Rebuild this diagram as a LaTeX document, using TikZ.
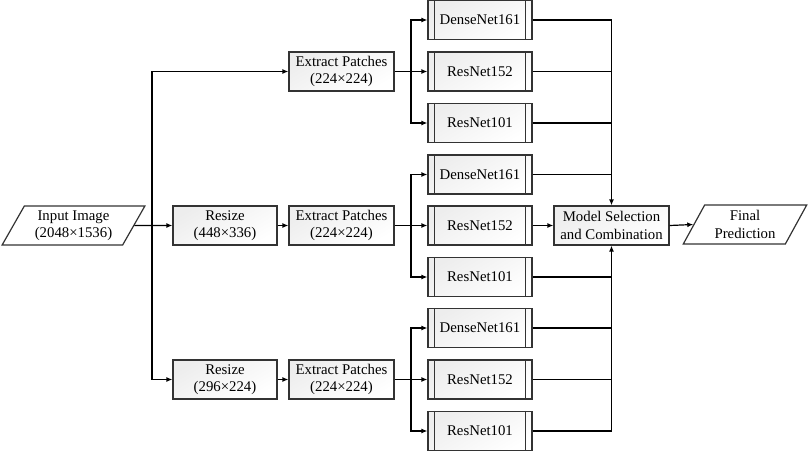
\documentclass[tikz,border=0pt]{standalone}
\usepackage{fontspec}
\setmainfont{Liberation Serif}
\newfontfamily\diagfont{Liberation Serif}
\usetikzlibrary{arrows.meta,shapes.geometric,calc}
\begin{document}
\begin{tikzpicture}[x=1pt,y=-1pt,
  font=\diagfont\fontsize{14.8}{17.5}\selectfont,
  boxcol/.style={draw=black!80, line width=1.2pt, top color=black!7, bottom color=white, shading angle=30},
  procbox/.style={boxcol, minimum width=104pt, minimum height=39pt, inner sep=0pt, align=center},
  netbox/.style={procbox},
  iobox/.style={draw=black!80, line width=1.2pt, fill=white, trapezium, trapezium left angle=60, trapezium right angle=120, trapezium stretches=true, minimum height=39pt, inner sep=0pt, align=center},
  conn/.style={line width=1.2pt, black},
  arr/.style={conn, -{Latex[length=6pt,width=5pt]}}]
\useasboundingbox (0,0) rectangle (809,451);
% input and resize / patches
\node[iobox, minimum width=143pt] (in) at (73.5,225.5) {Input Image\\(2048×1536)};
\node[procbox] (r1) at (225,225.5) {Resize\\(448×336)};
\node[procbox] (r2) at (225,379.5) {Resize\\(296×224)};
\node[procbox, minimum width=105pt] (e1) at (341.5,71.5) {Extract Patches\\(224×224)};
\node[procbox, minimum width=105pt] (e2) at (341.5,225.5) {Extract Patches\\(224×224)};
\node[procbox, minimum width=105pt] (e3) at (341.5,379.5) {Extract Patches\\(224×224)};
% networks
\foreach \n/\y/\t in {m11/20/DenseNet161, m12/71.5/ResNet152, m13/123/ResNet101,
                      m21/174.5/DenseNet161, m22/225.5/ResNet152, m23/277/ResNet101,
                      m31/328/DenseNet161, m32/379.5/ResNet152, m33/431/ResNet101}{
  \node[netbox] (\n) at (480,\y) {\t};
  \draw[draw=black!80, line width=1.2pt] ([xshift=7pt]\n.north west) -- ([xshift=7pt]\n.south west);
  \draw[draw=black!80, line width=1.2pt] ([xshift=-7pt]\n.north east) -- ([xshift=-7pt]\n.south east);
}
\node[procbox, minimum width=115pt] (ms) at (611.5,225.5) {Model Selection\\and Combination};
\node[iobox, minimum width=124pt] (fp) at (745,224.5) {Final\\Prediction};
% connectors: input branches
\coordinate (j0) at (152,225.5);
\draw[arr] (in.east) -- (r1.west);
\draw[arr] (j0) |- (e1.west);
\draw[arr] (j0) |- (r2.west);
\draw[arr] (r1.east) -- (e2.west);
\draw[arr] (r2.east) -- (e3.west);
% patches to networks
\foreach \e/\a/\b/\c in {e1/m11/m12/m13, e2/m21/m22/m23, e3/m31/m32/m33}{
  \coordinate (j\e) at (411,0 |- \e.east);
  \draw[arr] (\e.east) -- (\b.west);
  \draw[arr] (j\e) |- (\a.west);
  \draw[arr] (j\e) |- (\c.west);
}
% networks to model selection
\draw[arr] (m11.east) -| (ms.north);
\foreach \m in {m12,m13,m21}{\draw[conn] (\m.east) -- (\m.east -| ms.north);}
\draw[arr] (m33.east) -| (ms.south);
\foreach \m in {m23,m31,m32}{\draw[conn] (\m.east) -- (\m.east -| ms.south);}
\draw[arr] (m22.east) -- (ms.west);
\draw[arr] (ms.east) -- (fp.west);
\end{tikzpicture}
\end{document}
